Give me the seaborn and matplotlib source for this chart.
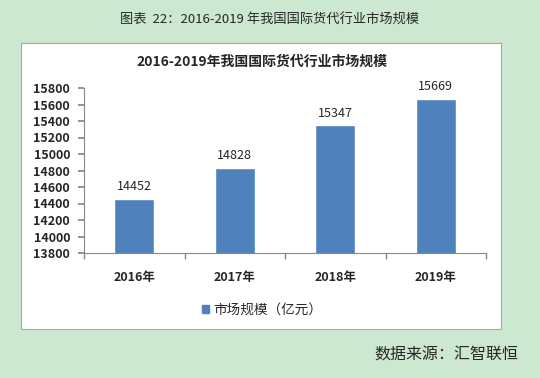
import matplotlib
matplotlib.use("Agg")
import matplotlib.pyplot as plt
from matplotlib.patches import Rectangle, Patch
import seaborn as sns
import pandas as pd

categories = ["2016年", "2017年", "2018年", "2019年"]
values = [14452, 14828, 15347, 15669]
yticks = [13800, 14000, 14200, 14400, 14600, 14800, 15000, 15200, 15400, 15600, 15800]
series_name = "市场规模（亿元）"
chart_title = "2016-2019年我国国际货代行业市场规模"
caption = "图表  22：2016-2019 年我国国际货代行业市场规模"
source = "数据来源：汇智联恒"

sns.set_theme(style="white")
plt.rcParams['font.family'] = ['Noto Sans CJK SC', 'DejaVu Sans']

BG = "#CDE8D1"
BAR = "#4F81BD"

fig = plt.figure(figsize=(5.4, 3.78), dpi=100)
fig.patch.set_facecolor(BG)

# white chart box
fig.patches.append(Rectangle((21/540, 1-329/378), 480/540, 286/378,
                             transform=fig.transFigure, facecolor="white",
                             edgecolor="#A6A6A6", linewidth=0.8, zorder=-10))

ax = fig.add_axes([84/540, 1-253/378, 402/540, 165/378])
ax.set_facecolor("none")
df = pd.DataFrame({"year": categories, "value": values})
sns.barplot(data=df, x="year", y="value", color=BAR, width=0.4, saturation=1, ax=ax)

ax.set_ylim(13800, 15800)
ax.set_xlim(-0.5, 3.5)
ax.set_yticks(yticks)
ax.set_yticklabels([str(t) for t in yticks], fontsize=9, fontweight="bold")
ax.set_xticks(range(len(categories)))
ax.set_xticklabels(categories, fontsize=9, fontweight="bold")
ax.set_xticks([-0.5, 0.5, 1.5, 2.5, 3.5], minor=True)
ax.tick_params(axis="x", which="major", length=0, pad=13)
ax.tick_params(axis="x", which="minor", length=4, color="#888888", direction="out", bottom=True)
ax.tick_params(axis="y", length=4, color="#888888", direction="out", left=True, pad=6)
ax.set_xlabel("")
ax.set_ylabel("")
for s in ["top", "right"]:
    ax.spines[s].set_visible(False)
for s in ["left", "bottom"]:
    ax.spines[s].set_color("#888888")
    ax.spines[s].set_linewidth(0.8)

for i, v in enumerate(values):
    ax.text(i, v + 70, str(v), ha="center", va="bottom", fontsize=9)

fig.text(262/540, 1-62/378, chart_title, ha="center", va="center",
         fontsize=10, fontweight="bold")
fig.text(270/540, 1-20/378, caption, ha="center", va="center", fontsize=9.5)
fig.text(518/540, 1-355/378, source, ha="right", va="center", fontsize=11.5)

handles = [Patch(facecolor=BAR, edgecolor=BAR)]
fig.legend(handles, [series_name], loc="center", bbox_to_anchor=(262/540, 1-310/378),
           frameon=False, fontsize=9.8, handlelength=0.55, handleheight=0.55,
           handletextpad=0.3)

fig.savefig("out.png", dpi=100, facecolor=BG)
